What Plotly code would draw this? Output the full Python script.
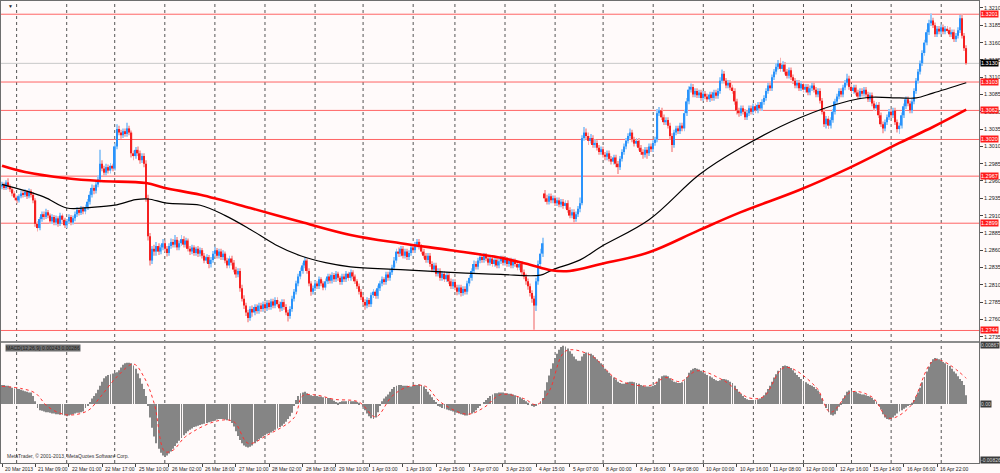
import plotly.graph_objects as go
from plotly.subplots import make_subplots

# EURUSD H1, 20 Mar 2013 17:00 .. 17 Apr 2013, x is the bar number
opens = [
    1.2952, 1.2955, 1.2950, 1.2958, 1.2952, 1.2948, 1.2942, 1.2936, 1.2932, 1.2938,
    1.2942, 1.2940, 1.2944, 1.2938, 1.2945, 1.2940, 1.2932, 1.2898, 1.2892, 1.2905,
    1.2912, 1.2908, 1.2915, 1.2910, 1.2902, 1.2908, 1.2900, 1.2906, 1.2898, 1.2910,
    1.2904, 1.2896, 1.2902, 1.2908, 1.2900, 1.2906, 1.2912, 1.2918, 1.2914, 1.2920,
    1.2916, 1.2922, 1.2930, 1.2940, 1.2950, 1.2946, 1.2955, 1.2962, 1.2985, 1.2978,
    1.2972, 1.2980, 1.2975, 1.2982, 1.2978, 1.3010, 1.3035, 1.3030, 1.3026, 1.3032,
    1.3028, 1.3036, 1.3030, 1.3000, 1.2996, 1.3005, 1.3000, 1.2990, 1.2996, 1.2985,
    1.2935, 1.2880, 1.2845, 1.2862, 1.2858, 1.2866, 1.2858, 1.2864, 1.2870, 1.2862,
    1.2856, 1.2866, 1.2872, 1.2868, 1.2875, 1.2864, 1.2870, 1.2876, 1.2868, 1.2874,
    1.2862, 1.2858, 1.2864, 1.2856, 1.2862, 1.2855, 1.2860, 1.2852, 1.2845, 1.2850,
    1.2840, 1.2846, 1.2855, 1.2860, 1.2852, 1.2858, 1.2850, 1.2855, 1.2845, 1.2838,
    1.2848, 1.2842, 1.2832, 1.2825, 1.2830, 1.2805, 1.2790, 1.2780, 1.2770, 1.2762,
    1.2775, 1.2770, 1.2778, 1.2772, 1.2780, 1.2775, 1.2782, 1.2776, 1.2784, 1.2778,
    1.2786, 1.2780, 1.2788, 1.2782, 1.2776, 1.2785, 1.2778, 1.2770, 1.2765, 1.2775,
    1.2790, 1.2800, 1.2812, 1.2822, 1.2830, 1.2838, 1.2845, 1.2830, 1.2812, 1.2800,
    1.2805, 1.2812, 1.2808, 1.2818, 1.2812, 1.2806, 1.2815, 1.2822, 1.2816, 1.2824,
    1.2818, 1.2826, 1.2820, 1.2814, 1.2822, 1.2818, 1.2826, 1.2820, 1.2828, 1.2822,
    1.2815, 1.2808, 1.2800, 1.2792, 1.2785, 1.2780, 1.2788, 1.2782, 1.2795, 1.2800,
    1.2794, 1.2805, 1.2812, 1.2818, 1.2814, 1.2825, 1.2820, 1.2828, 1.2835, 1.2845,
    1.2858, 1.2855, 1.2862, 1.2852, 1.2858, 1.2850, 1.2856, 1.2864, 1.2860, 1.2868,
    1.2872, 1.2865, 1.2858, 1.2852, 1.2846, 1.2852, 1.2840, 1.2832, 1.2838, 1.2826,
    1.2830, 1.2820, 1.2826, 1.2818, 1.2824, 1.2815, 1.2808, 1.2814, 1.2806, 1.2800,
    1.2806, 1.2798, 1.2804, 1.2800, 1.2812, 1.2820, 1.2830, 1.2840, 1.2836, 1.2845,
    1.2850, 1.2846, 1.2852, 1.2848, 1.2842, 1.2848, 1.2840, 1.2846, 1.2838, 1.2844,
    1.2848, 1.2842, 1.2846, 1.2840, 1.2845, 1.2838, 1.2844, 1.2840, 1.2835, 1.2840,
    1.2828, 1.2822, 1.2815, 1.2808, 1.2798, 1.2790, 1.2780, 1.2815, 1.2840, 1.2855,
    1.2942, 1.2935, 1.2930, 1.2938, 1.2932, 1.2935, 1.2928, 1.2932, 1.2926, 1.2930,
    1.2924, 1.2928, 1.2918, 1.2910, 1.2915, 1.2905, 1.2912, 1.2920, 1.2928, 1.3022,
    1.3030, 1.3025, 1.3018, 1.3022, 1.3012, 1.3015, 1.3008, 1.3002, 1.3006, 1.2998,
    1.2995, 1.3000, 1.2992, 1.2988, 1.2994, 1.2985, 1.2980, 1.2992, 1.3002, 1.3010,
    1.3018, 1.3025, 1.3030, 1.3020, 1.3014, 1.3018, 1.3008, 1.3002, 1.2998, 1.3005,
    1.3000, 1.3010, 1.3006, 1.3015, 1.3020, 1.3058, 1.3062, 1.3052, 1.3045, 1.3048,
    1.3040, 1.3025, 1.3012, 1.3030, 1.3036, 1.3032, 1.3040, 1.3036, 1.3058, 1.3075,
    1.3092, 1.3096, 1.3085, 1.3090, 1.3084, 1.3088, 1.3080, 1.3086, 1.3082, 1.3078,
    1.3085, 1.3080, 1.3088, 1.3083, 1.3090, 1.3105, 1.3115, 1.3105, 1.3098, 1.3102,
    1.3095, 1.3090, 1.3075, 1.3062, 1.3058, 1.3065, 1.3060, 1.3052, 1.3058, 1.3065,
    1.3060, 1.3068, 1.3062, 1.3070, 1.3065, 1.3074, 1.3080, 1.3090, 1.3098, 1.3094,
    1.3110, 1.3118, 1.3125, 1.3130, 1.3122, 1.3128, 1.3118, 1.3112, 1.3120, 1.3110,
    1.3105, 1.3098, 1.3102, 1.3094, 1.3100, 1.3092, 1.3096, 1.3088, 1.3094, 1.3098,
    1.3092, 1.3085, 1.3090, 1.3076, 1.3060, 1.3042, 1.3050, 1.3040, 1.3048, 1.3060,
    1.3075, 1.3082, 1.3090, 1.3085, 1.3095, 1.3102, 1.3108, 1.3096, 1.3090, 1.3095,
    1.3088, 1.3082, 1.3090, 1.3086, 1.3092, 1.3085, 1.3078, 1.3084, 1.3072, 1.3065,
    1.3070, 1.3055, 1.3042, 1.3036, 1.3045, 1.3052, 1.3060, 1.3055, 1.3062, 1.3045,
    1.3035, 1.3040, 1.3055, 1.3068, 1.3078, 1.3072, 1.3062, 1.3075, 1.3090, 1.3105,
    1.3118, 1.3130, 1.3145, 1.3160, 1.3175, 1.3188, 1.3192, 1.3185, 1.3172, 1.3180,
    1.3176, 1.3182, 1.3176, 1.3180, 1.3178, 1.3172, 1.3175, 1.3165, 1.3170, 1.3178,
    1.3195, 1.3170, 1.3152,
]

highs = [
    1.2959, 1.2958, 1.2961, 1.2964, 1.2955, 1.2951, 1.2945, 1.2939, 1.2941, 1.2946,
    1.2946, 1.2948, 1.2947, 1.2949, 1.2948, 1.2944, 1.2935, 1.2902, 1.2908, 1.2916,
    1.2916, 1.2920, 1.2918, 1.2913, 1.2912, 1.2911, 1.2910, 1.2909, 1.2914, 1.2913,
    1.2907, 1.2905, 1.2912, 1.2911, 1.2910, 1.2916, 1.2922, 1.2921, 1.2924, 1.2923,
    1.2926, 1.2934, 1.2945, 1.2955, 1.2954, 1.2960, 1.2968, 1.3005, 1.2990, 1.2982,
    1.2985, 1.2984, 1.2986, 1.2985, 1.3014, 1.3042, 1.3040, 1.3034, 1.3036, 1.3036,
    1.3044, 1.3040, 1.3033, 1.3004, 1.3009, 1.3010, 1.3004, 1.3000, 1.3000, 1.2990,
    1.2940, 1.2885, 1.2866, 1.2868, 1.2872, 1.2870, 1.2868, 1.2876, 1.2874, 1.2866,
    1.2870, 1.2877, 1.2876, 1.2882, 1.2879, 1.2874, 1.2882, 1.2880, 1.2878, 1.2877,
    1.2866, 1.2868, 1.2867, 1.2865, 1.2866, 1.2864, 1.2863, 1.2856, 1.2854, 1.2853,
    1.2850, 1.2859, 1.2865, 1.2863, 1.2862, 1.2862, 1.2860, 1.2858, 1.2849, 1.2852,
    1.2852, 1.2846, 1.2836, 1.2834, 1.2834, 1.2810, 1.2795, 1.2784, 1.2774, 1.2779,
    1.2780, 1.2782, 1.2782, 1.2784, 1.2784, 1.2786, 1.2786, 1.2788, 1.2788, 1.2790,
    1.2790, 1.2792, 1.2792, 1.2786, 1.2789, 1.2789, 1.2782, 1.2774, 1.2779, 1.2794,
    1.2804, 1.2816, 1.2826, 1.2835, 1.2842, 1.2850, 1.2848, 1.2834, 1.2815, 1.2809,
    1.2816, 1.2815, 1.2822, 1.2821, 1.2815, 1.2819, 1.2826, 1.2826, 1.2828, 1.2827,
    1.2830, 1.2829, 1.2823, 1.2826, 1.2826, 1.2830, 1.2829, 1.2832, 1.2831, 1.2825,
    1.2818, 1.2812, 1.2804, 1.2795, 1.2789, 1.2792, 1.2791, 1.2799, 1.2804, 1.2803,
    1.2809, 1.2816, 1.2822, 1.2821, 1.2829, 1.2829, 1.2832, 1.2839, 1.2850, 1.2862,
    1.2864, 1.2866, 1.2866, 1.2862, 1.2862, 1.2860, 1.2868, 1.2868, 1.2872, 1.2876,
    1.2876, 1.2869, 1.2862, 1.2856, 1.2856, 1.2856, 1.2844, 1.2842, 1.2842, 1.2834,
    1.2834, 1.2830, 1.2830, 1.2828, 1.2828, 1.2819, 1.2818, 1.2818, 1.2810, 1.2810,
    1.2810, 1.2808, 1.2808, 1.2816, 1.2824, 1.2834, 1.2845, 1.2844, 1.2849, 1.2856,
    1.2854, 1.2856, 1.2856, 1.2852, 1.2852, 1.2852, 1.2850, 1.2850, 1.2848, 1.2852,
    1.2852, 1.2850, 1.2850, 1.2849, 1.2849, 1.2848, 1.2848, 1.2844, 1.2844, 1.2844,
    1.2832, 1.2826, 1.2819, 1.2812, 1.2802, 1.2794, 1.2820, 1.2845, 1.2862, 1.2878,
    1.2947, 1.2940, 1.2942, 1.2942, 1.2939, 1.2939, 1.2936, 1.2936, 1.2934, 1.2934,
    1.2932, 1.2932, 1.2922, 1.2919, 1.2919, 1.2916, 1.2924, 1.2936, 1.3026, 1.3038,
    1.3036, 1.3030, 1.3028, 1.3026, 1.3020, 1.3019, 1.3012, 1.3010, 1.3010, 1.3002,
    1.3004, 1.3004, 1.2996, 1.2998, 1.2998, 1.2989, 1.2996, 1.3006, 1.3014, 1.3022,
    1.3029, 1.3036, 1.3034, 1.3024, 1.3022, 1.3022, 1.3012, 1.3006, 1.3009, 1.3009,
    1.3014, 1.3014, 1.3019, 1.3024, 1.3064, 1.3067, 1.3066, 1.3056, 1.3052, 1.3052,
    1.3044, 1.3029, 1.3034, 1.3040, 1.3040, 1.3044, 1.3044, 1.3063, 1.3080, 1.3097,
    1.3101, 1.3100, 1.3094, 1.3094, 1.3092, 1.3092, 1.3090, 1.3090, 1.3086, 1.3089,
    1.3089, 1.3092, 1.3092, 1.3094, 1.3110, 1.3121, 1.3119, 1.3109, 1.3106, 1.3106,
    1.3099, 1.3094, 1.3079, 1.3066, 1.3069, 1.3069, 1.3064, 1.3062, 1.3069, 1.3069,
    1.3072, 1.3072, 1.3074, 1.3074, 1.3078, 1.3084, 1.3094, 1.3102, 1.3102, 1.3114,
    1.3122, 1.3130, 1.3135, 1.3138, 1.3133, 1.3132, 1.3122, 1.3124, 1.3124, 1.3114,
    1.3109, 1.3106, 1.3106, 1.3104, 1.3104, 1.3100, 1.3100, 1.3098, 1.3102, 1.3102,
    1.3096, 1.3094, 1.3094, 1.3080, 1.3064, 1.3054, 1.3054, 1.3052, 1.3064, 1.3079,
    1.3086, 1.3094, 1.3094, 1.3099, 1.3106, 1.3115, 1.3112, 1.3100, 1.3099, 1.3099,
    1.3092, 1.3094, 1.3094, 1.3096, 1.3096, 1.3089, 1.3088, 1.3088, 1.3076, 1.3074,
    1.3074, 1.3059, 1.3046, 1.3049, 1.3056, 1.3064, 1.3064, 1.3066, 1.3066, 1.3049,
    1.3044, 1.3059, 1.3072, 1.3082, 1.3082, 1.3076, 1.3079, 1.3094, 1.3109, 1.3122,
    1.3134, 1.3149, 1.3164, 1.3179, 1.3193, 1.3202, 1.3196, 1.3189, 1.3184, 1.3184,
    1.3186, 1.3186, 1.3184, 1.3184, 1.3182, 1.3179, 1.3179, 1.3174, 1.3182, 1.3200,
    1.3201, 1.3174, 1.3156,
]

lows = [
    1.2948, 1.2947, 1.2947, 1.2948, 1.2944, 1.2938, 1.2932, 1.2928, 1.2929, 1.2935,
    1.2936, 1.2937, 1.2934, 1.2935, 1.2936, 1.2928, 1.2894, 1.2887, 1.2889, 1.2901,
    1.2904, 1.2905, 1.2906, 1.2898, 1.2898, 1.2896, 1.2896, 1.2894, 1.2895, 1.2900,
    1.2892, 1.2892, 1.2899, 1.2896, 1.2897, 1.2902, 1.2908, 1.2910, 1.2911, 1.2912,
    1.2912, 1.2918, 1.2926, 1.2936, 1.2941, 1.2942, 1.2951, 1.2958, 1.2974, 1.2968,
    1.2968, 1.2971, 1.2971, 1.2974, 1.2975, 1.3006, 1.3026, 1.3021, 1.3022, 1.3024,
    1.3024, 1.3026, 1.2994, 1.2990, 1.2992, 1.2996, 1.2985, 1.2986, 1.2980, 1.2930,
    1.2874, 1.2838, 1.2840, 1.2852, 1.2852, 1.2853, 1.2854, 1.2860, 1.2858, 1.2851,
    1.2852, 1.2862, 1.2864, 1.2864, 1.2860, 1.2860, 1.2866, 1.2864, 1.2864, 1.2858,
    1.2853, 1.2854, 1.2852, 1.2852, 1.2850, 1.2851, 1.2848, 1.2841, 1.2841, 1.2834,
    1.2835, 1.2842, 1.2851, 1.2848, 1.2848, 1.2846, 1.2846, 1.2841, 1.2834, 1.2834,
    1.2838, 1.2828, 1.2820, 1.2821, 1.2800, 1.2786, 1.2775, 1.2765, 1.2756, 1.2758,
    1.2764, 1.2766, 1.2768, 1.2768, 1.2771, 1.2771, 1.2772, 1.2772, 1.2774, 1.2774,
    1.2776, 1.2776, 1.2778, 1.2771, 1.2772, 1.2774, 1.2766, 1.2757, 1.2761, 1.2771,
    1.2786, 1.2796, 1.2808, 1.2818, 1.2826, 1.2834, 1.2826, 1.2808, 1.2794, 1.2796,
    1.2801, 1.2804, 1.2804, 1.2808, 1.2802, 1.2802, 1.2811, 1.2812, 1.2812, 1.2814,
    1.2814, 1.2816, 1.2810, 1.2810, 1.2814, 1.2814, 1.2816, 1.2816, 1.2818, 1.2811,
    1.2804, 1.2796, 1.2788, 1.2781, 1.2774, 1.2776, 1.2778, 1.2778, 1.2791, 1.2790,
    1.2790, 1.2801, 1.2808, 1.2810, 1.2810, 1.2816, 1.2816, 1.2824, 1.2831, 1.2841,
    1.2850, 1.2851, 1.2848, 1.2848, 1.2846, 1.2846, 1.2852, 1.2856, 1.2856, 1.2864,
    1.2861, 1.2854, 1.2848, 1.2842, 1.2842, 1.2836, 1.2828, 1.2828, 1.2822, 1.2822,
    1.2816, 1.2816, 1.2814, 1.2814, 1.2811, 1.2804, 1.2804, 1.2802, 1.2795, 1.2796,
    1.2793, 1.2794, 1.2796, 1.2796, 1.2808, 1.2816, 1.2826, 1.2832, 1.2832, 1.2841,
    1.2842, 1.2842, 1.2844, 1.2838, 1.2838, 1.2836, 1.2836, 1.2834, 1.2834, 1.2840,
    1.2838, 1.2838, 1.2836, 1.2836, 1.2834, 1.2834, 1.2836, 1.2831, 1.2831, 1.2824,
    1.2818, 1.2810, 1.2803, 1.2793, 1.2784, 1.2745, 1.2772, 1.2810, 1.2835, 1.2850,
    1.2930, 1.2926, 1.2926, 1.2928, 1.2928, 1.2924, 1.2924, 1.2922, 1.2922, 1.2920,
    1.2920, 1.2914, 1.2906, 1.2906, 1.2900, 1.2901, 1.2908, 1.2915, 1.2925, 1.3018,
    1.3020, 1.3012, 1.3014, 1.3008, 1.3008, 1.3004, 1.2998, 1.2998, 1.2994, 1.2990,
    1.2990, 1.2988, 1.2984, 1.2984, 1.2980, 1.2970, 1.2976, 1.2988, 1.2998, 1.3006,
    1.3014, 1.3021, 1.3016, 1.3010, 1.3010, 1.3004, 1.2998, 1.2992, 1.2994, 1.2992,
    1.2996, 1.3002, 1.3002, 1.3011, 1.3016, 1.3054, 1.3048, 1.3041, 1.3041, 1.3036,
    1.3020, 1.3002, 1.3008, 1.3026, 1.3028, 1.3028, 1.3032, 1.3032, 1.3054, 1.3071,
    1.3088, 1.3081, 1.3081, 1.3080, 1.3080, 1.3076, 1.3076, 1.3078, 1.3074, 1.3074,
    1.3076, 1.3076, 1.3079, 1.3079, 1.3086, 1.3101, 1.3101, 1.3094, 1.3094, 1.3091,
    1.3086, 1.3070, 1.3056, 1.3053, 1.3054, 1.3056, 1.3048, 1.3048, 1.3054, 1.3056,
    1.3056, 1.3058, 1.3058, 1.3061, 1.3061, 1.3070, 1.3076, 1.3086, 1.3090, 1.3090,
    1.3106, 1.3114, 1.3121, 1.3118, 1.3118, 1.3114, 1.3108, 1.3108, 1.3106, 1.3100,
    1.3094, 1.3094, 1.3090, 1.3090, 1.3088, 1.3088, 1.3084, 1.3084, 1.3090, 1.3088,
    1.3081, 1.3081, 1.3072, 1.3056, 1.3038, 1.3036, 1.3035, 1.3036, 1.3044, 1.3056,
    1.3071, 1.3078, 1.3081, 1.3081, 1.3091, 1.3098, 1.3092, 1.3086, 1.3086, 1.3084,
    1.3078, 1.3078, 1.3082, 1.3082, 1.3081, 1.3074, 1.3074, 1.3068, 1.3061, 1.3061,
    1.3051, 1.3038, 1.3029, 1.3032, 1.3041, 1.3048, 1.3051, 1.3051, 1.3041, 1.3030,
    1.3028, 1.3036, 1.3051, 1.3064, 1.3068, 1.3058, 1.3058, 1.3071, 1.3086, 1.3101,
    1.3114, 1.3126, 1.3141, 1.3156, 1.3171, 1.3184, 1.3181, 1.3168, 1.3168, 1.3172,
    1.3172, 1.3172, 1.3172, 1.3174, 1.3168, 1.3168, 1.3161, 1.3161, 1.3166, 1.3174,
    1.3166, 1.3148, 1.3128,
]

closes = [
    1.2955, 1.2950, 1.2958, 1.2952, 1.2948, 1.2942, 1.2936, 1.2932, 1.2938, 1.2942,
    1.2940, 1.2944, 1.2938, 1.2945, 1.2940, 1.2932, 1.2898, 1.2892, 1.2905, 1.2912,
    1.2908, 1.2915, 1.2910, 1.2902, 1.2908, 1.2900, 1.2906, 1.2898, 1.2910, 1.2904,
    1.2896, 1.2902, 1.2908, 1.2900, 1.2906, 1.2912, 1.2918, 1.2914, 1.2920, 1.2916,
    1.2922, 1.2930, 1.2940, 1.2950, 1.2946, 1.2955, 1.2962, 1.2985, 1.2978, 1.2972,
    1.2980, 1.2975, 1.2982, 1.2978, 1.3010, 1.3035, 1.3030, 1.3026, 1.3032, 1.3028,
    1.3036, 1.3030, 1.3000, 1.2996, 1.3005, 1.3000, 1.2990, 1.2996, 1.2985, 1.2935,
    1.2880, 1.2845, 1.2862, 1.2858, 1.2866, 1.2858, 1.2864, 1.2870, 1.2862, 1.2856,
    1.2866, 1.2872, 1.2868, 1.2875, 1.2864, 1.2870, 1.2876, 1.2868, 1.2874, 1.2862,
    1.2858, 1.2864, 1.2856, 1.2862, 1.2855, 1.2860, 1.2852, 1.2845, 1.2850, 1.2840,
    1.2846, 1.2855, 1.2860, 1.2852, 1.2858, 1.2850, 1.2855, 1.2845, 1.2838, 1.2848,
    1.2842, 1.2832, 1.2825, 1.2830, 1.2805, 1.2790, 1.2780, 1.2770, 1.2762, 1.2775,
    1.2770, 1.2778, 1.2772, 1.2780, 1.2775, 1.2782, 1.2776, 1.2784, 1.2778, 1.2786,
    1.2780, 1.2788, 1.2782, 1.2776, 1.2785, 1.2778, 1.2770, 1.2765, 1.2775, 1.2790,
    1.2800, 1.2812, 1.2822, 1.2830, 1.2838, 1.2845, 1.2830, 1.2812, 1.2800, 1.2805,
    1.2812, 1.2808, 1.2818, 1.2812, 1.2806, 1.2815, 1.2822, 1.2816, 1.2824, 1.2818,
    1.2826, 1.2820, 1.2814, 1.2822, 1.2818, 1.2826, 1.2820, 1.2828, 1.2822, 1.2815,
    1.2808, 1.2800, 1.2792, 1.2785, 1.2780, 1.2788, 1.2782, 1.2795, 1.2800, 1.2794,
    1.2805, 1.2812, 1.2818, 1.2814, 1.2825, 1.2820, 1.2828, 1.2835, 1.2845, 1.2858,
    1.2855, 1.2862, 1.2852, 1.2858, 1.2850, 1.2856, 1.2864, 1.2860, 1.2868, 1.2872,
    1.2865, 1.2858, 1.2852, 1.2846, 1.2852, 1.2840, 1.2832, 1.2838, 1.2826, 1.2830,
    1.2820, 1.2826, 1.2818, 1.2824, 1.2815, 1.2808, 1.2814, 1.2806, 1.2800, 1.2806,
    1.2798, 1.2804, 1.2800, 1.2812, 1.2820, 1.2830, 1.2840, 1.2836, 1.2845, 1.2850,
    1.2846, 1.2852, 1.2848, 1.2842, 1.2848, 1.2840, 1.2846, 1.2838, 1.2844, 1.2848,
    1.2842, 1.2846, 1.2840, 1.2845, 1.2838, 1.2844, 1.2840, 1.2835, 1.2840, 1.2828,
    1.2822, 1.2815, 1.2808, 1.2798, 1.2790, 1.2780, 1.2815, 1.2840, 1.2855, 1.2870,
    1.2935, 1.2930, 1.2938, 1.2932, 1.2935, 1.2928, 1.2932, 1.2926, 1.2930, 1.2924,
    1.2928, 1.2918, 1.2910, 1.2915, 1.2905, 1.2912, 1.2920, 1.2928, 1.3022, 1.3030,
    1.3025, 1.3018, 1.3022, 1.3012, 1.3015, 1.3008, 1.3002, 1.3006, 1.2998, 1.2995,
    1.3000, 1.2992, 1.2988, 1.2994, 1.2985, 1.2980, 1.2992, 1.3002, 1.3010, 1.3018,
    1.3025, 1.3030, 1.3020, 1.3014, 1.3018, 1.3008, 1.3002, 1.2998, 1.3005, 1.3000,
    1.3010, 1.3006, 1.3015, 1.3020, 1.3058, 1.3062, 1.3052, 1.3045, 1.3048, 1.3040,
    1.3025, 1.3012, 1.3030, 1.3036, 1.3032, 1.3040, 1.3036, 1.3058, 1.3075, 1.3092,
    1.3096, 1.3085, 1.3090, 1.3084, 1.3088, 1.3080, 1.3086, 1.3082, 1.3078, 1.3085,
    1.3080, 1.3088, 1.3083, 1.3090, 1.3105, 1.3115, 1.3105, 1.3098, 1.3102, 1.3095,
    1.3090, 1.3075, 1.3062, 1.3058, 1.3065, 1.3060, 1.3052, 1.3058, 1.3065, 1.3060,
    1.3068, 1.3062, 1.3070, 1.3065, 1.3074, 1.3080, 1.3090, 1.3098, 1.3094, 1.3110,
    1.3118, 1.3125, 1.3130, 1.3122, 1.3128, 1.3118, 1.3112, 1.3120, 1.3110, 1.3105,
    1.3098, 1.3102, 1.3094, 1.3100, 1.3092, 1.3096, 1.3088, 1.3094, 1.3098, 1.3092,
    1.3085, 1.3090, 1.3076, 1.3060, 1.3042, 1.3050, 1.3040, 1.3048, 1.3060, 1.3075,
    1.3082, 1.3090, 1.3085, 1.3095, 1.3102, 1.3108, 1.3096, 1.3090, 1.3095, 1.3088,
    1.3082, 1.3090, 1.3086, 1.3092, 1.3085, 1.3078, 1.3084, 1.3072, 1.3065, 1.3070,
    1.3055, 1.3042, 1.3036, 1.3045, 1.3052, 1.3060, 1.3055, 1.3062, 1.3045, 1.3035,
    1.3040, 1.3055, 1.3068, 1.3078, 1.3072, 1.3062, 1.3075, 1.3090, 1.3105, 1.3118,
    1.3130, 1.3145, 1.3160, 1.3175, 1.3188, 1.3192, 1.3185, 1.3172, 1.3180, 1.3176,
    1.3182, 1.3176, 1.3180, 1.3178, 1.3172, 1.3175, 1.3165, 1.3170, 1.3178, 1.3195,
    1.3170, 1.3152, 1.3130,
]

# MACD main line (histogram), one value per bar
macd_main = [
    0.0028, 0.0028, 0.0027, 0.0027, 0.0026, 0.0024, 0.0023, 0.0022, 0.0022, 0.0021,
    0.0020, 0.0019, 0.0018, 0.0017, 0.0017, 0.0012, 0.0004, -0.0006, -0.0009, -0.0010,
    -0.0011, -0.0012, -0.0012, -0.0013, -0.0014, -0.0014, -0.0015, -0.0015, -0.0016, -0.0016,
    -0.0017, -0.0018, -0.0017, -0.0016, -0.0015, -0.0014, -0.0013, -0.0013, -0.0012, -0.0011,
    -0.0006, -0.0002, 0.0003, 0.0008, 0.0012, 0.0016, 0.0021, 0.0027, 0.0033, 0.0038,
    0.0041, 0.0043, 0.0044, 0.0045, 0.0046, 0.0047, 0.0050, 0.0054, 0.0058, 0.0060,
    0.0061, 0.0061, 0.0060, 0.0057, 0.0052, 0.0045, 0.0038, 0.0030, 0.0022, 0.0012,
    -0.0002, -0.0020, -0.0035, -0.0048, -0.0058, -0.0066, -0.0072, -0.0076, -0.0078, -0.0076,
    -0.0073, -0.0070, -0.0066, -0.0062, -0.0058, -0.0054, -0.0050, -0.0046, -0.0043, -0.0040,
    -0.0038, -0.0036, -0.0034, -0.0033, -0.0032, -0.0031, -0.0030, -0.0029, -0.0028, -0.0027,
    -0.0026, -0.0025, -0.0024, -0.0023, -0.0022, -0.0022, -0.0022, -0.0023, -0.0024, -0.0025,
    -0.0028, -0.0033, -0.0040, -0.0047, -0.0053, -0.0058, -0.0061, -0.0063, -0.0064, -0.0063,
    -0.0061, -0.0058, -0.0055, -0.0052, -0.0050, -0.0048, -0.0046, -0.0044, -0.0043, -0.0042,
    -0.0040, -0.0038, -0.0036, -0.0034, -0.0032, -0.0029, -0.0026, -0.0022, -0.0018, -0.0013,
    -0.0002, 0.0006, 0.0012, 0.0016, 0.0017, 0.0018, 0.0016, 0.0014, 0.0013, 0.0012,
    0.0012, 0.0012, 0.0011, 0.0011, 0.0010, 0.0010, 0.0009, 0.0009, 0.0007, 0.0005,
    0.0003, 0.0002, 0.0003, 0.0004, 0.0004, 0.0004, 0.0005, 0.0004, 0.0004, 0.0004,
    0.0003, 0.0002, 0.0000, -0.0004, -0.0009, -0.0014, -0.0018, -0.0021, -0.0022, -0.0020,
    -0.0012, -0.0003, 0.0004, 0.0008, 0.0011, 0.0014, 0.0018, 0.0022, 0.0025, 0.0027,
    0.0028, 0.0028, 0.0027, 0.0027, 0.0027, 0.0026, 0.0026, 0.0027, 0.0028, 0.0028,
    0.0029, 0.0028, 0.0026, 0.0022, 0.0018, 0.0014, 0.0010, 0.0006, 0.0003, -0.0002,
    -0.0004, -0.0006, -0.0007, -0.0008, -0.0009, -0.0010, -0.0011, -0.0012, -0.0013, -0.0014,
    -0.0015, -0.0016, -0.0017, -0.0017, -0.0016, -0.0014, -0.0012, -0.0009, -0.0006, -0.0003,
    0.0000, 0.0003, 0.0006, 0.0009, 0.0012, 0.0014, 0.0016, 0.0016, 0.0017, 0.0017,
    0.0017, 0.0016, 0.0016, 0.0015, 0.0015, 0.0014, 0.0013, 0.0012, 0.0010, 0.0008,
    0.0006, 0.0004, 0.0002, 0.0000, -0.0002, -0.0004, -0.0003, 0.0000, 0.0004, 0.0009,
    0.0020, 0.0032, 0.0042, 0.0052, 0.0060, 0.0068, 0.0074, 0.0080, 0.0084, 0.0086,
    0.0085, 0.0082, 0.0078, 0.0074, 0.0070, 0.0066, 0.0064, 0.0064, 0.0070, 0.0074,
    0.0076, 0.0076, 0.0074, 0.0072, 0.0069, 0.0066, 0.0063, 0.0060, 0.0056, 0.0052,
    0.0049, 0.0046, 0.0042, 0.0039, 0.0036, 0.0033, 0.0031, 0.0030, 0.0030, 0.0031,
    0.0032, 0.0033, 0.0033, 0.0032, 0.0031, 0.0030, 0.0028, 0.0027, 0.0026, 0.0026,
    0.0026, 0.0026, 0.0027, 0.0028, 0.0033, 0.0038, 0.0041, 0.0042, 0.0042, 0.0041,
    0.0038, 0.0035, 0.0033, 0.0032, 0.0031, 0.0031, 0.0032, 0.0035, 0.0040, 0.0046,
    0.0050, 0.0052, 0.0053, 0.0052, 0.0051, 0.0049, 0.0047, 0.0045, 0.0043, 0.0041,
    0.0039, 0.0037, 0.0035, 0.0034, 0.0035, 0.0037, 0.0037, 0.0036, 0.0035, 0.0033,
    0.0031, 0.0027, 0.0022, 0.0018, 0.0015, 0.0012, 0.0009, 0.0007, 0.0006, 0.0006,
    0.0006, 0.0006, 0.0007, 0.0008, 0.0010, 0.0013, 0.0017, 0.0022, 0.0027, 0.0033,
    0.0039, 0.0044, 0.0049, 0.0053, 0.0056, 0.0057, 0.0056, 0.0055, 0.0053, 0.0050,
    0.0046, 0.0043, 0.0040, 0.0037, 0.0034, 0.0032, 0.0030, 0.0028, 0.0027, 0.0025,
    0.0022, 0.0020, 0.0015, 0.0008, 0.0000, -0.0006, -0.0012, -0.0016, -0.0017, -0.0015,
    -0.0010, -0.0004, 0.0002, 0.0008, 0.0013, 0.0018, 0.0020, 0.0020, 0.0019, 0.0018,
    0.0016, 0.0015, 0.0014, 0.0014, 0.0013, 0.0012, 0.0011, 0.0009, 0.0006, 0.0003,
    -0.0002, -0.0008, -0.0015, -0.0020, -0.0022, -0.0023, -0.0022, -0.0020, -0.0017, -0.0014,
    -0.0011, -0.0009, -0.0007, -0.0005, -0.0003, -0.0001, 0.0002, 0.0006, 0.0011, 0.0017,
    0.0024, 0.0032, 0.0040, 0.0048, 0.0055, 0.0062, 0.0066, 0.0068, 0.0067, 0.0066,
    0.0064, 0.0062, 0.0060, 0.0058, 0.0056, 0.0052, 0.0048, 0.0045, 0.0041, 0.0037,
    0.0034, 0.0028, 0.0013,
]

# MACD signal line, read at a few bars
signal_bars = [0, 9, 16, 22, 31, 41, 47, 55, 63, 68, 73, 78, 82, 88, 103, 111, 118,
               127, 140, 144, 151, 159, 171, 179, 187, 195, 203, 210, 223, 231, 239,
               250, 256, 262, 270, 282, 295, 310, 318, 325, 333, 345, 358, 365, 375,
               390, 397, 407, 417, 425, 435, 447, 462]
signal_vals = [0.0026, 0.0023, 0.0016, -0.0004, -0.0016, -0.0010, 0.0010, 0.0040,
               0.0059, 0.0040, 0.0000, -0.0070, -0.0068, -0.0048, -0.0025, -0.0026,
               -0.0058, -0.0046, -0.0020, 0.0012, 0.0013, 0.0007, 0.0003, -0.0019,
               0.0012, 0.0026, 0.0026, 0.0003, -0.0015, -0.0005, 0.0014, 0.0008,
               -0.0001, 0.0018, 0.0078, 0.0072, 0.0036, 0.0027, 0.0039, 0.0033,
               0.0049, 0.0036, 0.0009, 0.0011, 0.0054, 0.0025, -0.0012, 0.0018,
               0.0010, -0.0021, -0.0004, 0.0065, 0.0038]

# moving averages (black = fast, red = slow), read at a few bars
fast_ma_bars = [0, 20, 31, 43, 54, 64, 70, 79, 95, 107, 119, 131, 143, 155, 167, 191,
                215, 239, 258, 264, 277, 287, 310, 334, 354, 382, 406, 416, 430, 438,
                446, 462]
fast_ma_vals = [1.2955, 1.2937, 1.2921, 1.2922, 1.2925, 1.2933, 1.2934, 1.2928, 1.2925,
                1.2910, 1.2890, 1.2868, 1.2852, 1.2842, 1.2836, 1.2832, 1.2828, 1.2825,
                1.2824, 1.2832, 1.2846, 1.2865, 1.2904, 1.2969, 1.3008, 1.3051, 1.3076,
                1.3081, 1.3080, 1.3080, 1.3087, 1.3102]
slow_ma_bars = [0, 11, 31, 47, 69, 78, 95, 119, 143, 167, 191, 215, 239, 253, 263, 272,
                287, 310, 334, 354, 382, 406, 430, 446, 462]
slow_ma_vals = [1.2982, 1.2973, 1.2964, 1.2960, 1.2957, 1.2950, 1.2940, 1.2921, 1.2901,
                1.2882, 1.2870, 1.2860, 1.2849, 1.2839, 1.2831, 1.2830, 1.2840, 1.2857,
                1.2889, 1.2915, 1.2947, 1.2979, 1.3015, 1.3038, 1.3063]

levels = [1.3201, 1.3103, 1.3062, 1.3020, 1.2967, 1.2899, 1.2744]
last_price = 1.3130

price_ticks = [1.2735, 1.2760, 1.2785, 1.2810, 1.2835, 1.2860, 1.2885, 1.2910, 1.2935,
               1.2960, 1.2985, 1.3010, 1.3035, 1.3060, 1.3085, 1.3110, 1.3135, 1.3160,
               1.3185, 1.3210]
macd_scale = [(0.0087, "0.00867"), (0.0, "0.00"), (-0.0083, "-0.00826")]

time_labels = ["20 Mar 2013", "21 Mar 09:00", "22 Mar 01:00", "22 Mar 17:00", "25 Mar 10:00",
               "26 Mar 02:00", "26 Mar 18:00", "27 Mar 10:00", "28 Mar 02:00", "28 Mar 18:00",
               "29 Mar 10:00", "1 Apr 03:00", "1 Apr 19:00", "2 Apr 15:00", "3 Apr 07:00",
               "3 Apr 23:00", "4 Apr 15:00", "5 Apr 07:00", "8 Apr 00:00", "8 Apr 16:00",
               "9 Apr 08:00", "10 Apr 00:00", "10 Apr 16:00", "11 Apr 08:00", "12 Apr 00:00",
               "12 Apr 16:00", "15 Apr 14:00", "16 Apr 06:00", "16 Apr 22:00"]
label_step = 16
# first bar of each day -> dotted grid
day_starts = [7, 31, 54, 78, 102, 126, 150, 173, 197, 217, 241, 265, 288, 312, 336,
              360, 384, 407, 426, 450]

BG = "#fffafa"
FRAME = "#6e6e6e"
FONT = "Liberation Sans"

n = len(closes)
bars = list(range(n))
rising = [c >= o for o, c in zip(opens, closes)]
body_base = [min(o, c) for o, c in zip(opens, closes)]
body_len = [max(abs(c - o), 0.00008) for o, c in zip(opens, closes)]
wick_len = [h - l for h, l in zip(highs, lows)]

fig = make_subplots(rows=2, cols=1, shared_xaxes=True, vertical_spacing=0)

# candles: wick then body
fig.add_trace(go.Bar(x=bars, y=wick_len, base=lows, width=0.45,
                     marker=dict(color=["#9ccbf7" if r else "#f7adad" for r in rising],
                                 line_width=0)), row=1, col=1)
fig.add_trace(go.Bar(x=bars, y=body_len, base=body_base, width=0.75,
                     marker=dict(color=["#2a93fb" if r else "#f52020" for r in rising],
                                 line_width=0)), row=1, col=1)

fig.add_trace(go.Scatter(x=fast_ma_bars, y=fast_ma_vals, mode="lines",
                         line=dict(color="#000000", width=1.2, shape="spline")), row=1, col=1)
fig.add_trace(go.Scatter(x=slow_ma_bars, y=slow_ma_vals, mode="lines",
                         line=dict(color="#ff0000", width=2.6, shape="spline")), row=1, col=1)

fig.add_trace(go.Bar(x=bars, y=macd_main, width=0.45,
                     marker=dict(color="#858585", line_width=0)), row=2, col=1)
fig.add_trace(go.Scatter(x=signal_bars, y=signal_vals, mode="lines",
                         line=dict(color="#ff3030", width=1, dash="dot", shape="spline")),
              row=2, col=1)

fig.update_layout(
    width=1000, height=473,
    margin=dict(l=1, r=21, t=1, b=10),
    paper_bgcolor=BG, plot_bgcolor=BG,
    showlegend=False, barmode="overlay", hovermode=False,
    font=dict(family=FONT, size=6, color="#222222"),
)
fig.update_xaxes(range=[-0.48, 468.1], showgrid=False, zeroline=False, showline=True,
                 mirror=True, linecolor=FRAME, linewidth=1, automargin=False)
fig.update_xaxes(showticklabels=False, ticks="", row=1, col=1)
fig.update_xaxes(tickvals=[k * label_step for k in range(len(time_labels))],
                 showticklabels=False, ticks="outside", ticklen=3, tickcolor="#444444",
                 row=2, col=1)

fig.update_yaxes(domain=[0.2641, 1.0], range=[1.27288, 1.32201], side="right",
                 tickvals=price_ticks, ticktext=[f"{v:.4f}" for v in price_ticks],
                 ticks="outside", ticklen=3, tickcolor="#444444",
                 tickfont=dict(size=5.5, color="#222222"),
                 showgrid=False, zeroline=False, showline=True, mirror=True,
                 linecolor=FRAME, linewidth=1, automargin=False, row=1, col=1)
fig.update_yaxes(domain=[0.0, 0.2597], range=[-0.0087, 0.0090], side="right",
                 showticklabels=False, ticks="", showgrid=False, zeroline=False,
                 showline=True, mirror=True, linecolor=FRAME, linewidth=1,
                 automargin=False, row=2, col=1)

# panel separator
fig.add_shape(type="rect", xref="paper", yref="paper", x0=0, x1=1, y0=0.2597, y1=0.2641,
              fillcolor="#8c8c8c", line_width=0)

for d in day_starts:
    fig.add_shape(type="line", xref="x", yref="paper", x0=d, x1=d, y0=0, y1=1,
                  line=dict(color="#555555", width=1, dash="dot"), layer="below")

fig.add_shape(type="line", xref="paper", yref="y", x0=0, x1=1, y0=last_price, y1=last_price,
              line=dict(color="#c8c8c8", width=1), layer="below")
for lv in levels:
    fig.add_shape(type="line", xref="paper", yref="y", x0=0, x1=1, y0=lv, y1=lv,
                  line=dict(color="#ff6464", width=1), layer="below")
    fig.add_annotation(xref="paper", x=1, xanchor="left", xshift=1, yref="y", y=lv,
                       text=f"{lv:.4f}", showarrow=False, bgcolor="#ff1c1c", borderpad=0,
                       font=dict(color="white", size=5.5))
fig.add_annotation(xref="paper", x=1, xanchor="left", xshift=1, yref="y", y=last_price,
                   text=f"{last_price:.4f}", showarrow=False, bgcolor="#000000", borderpad=0,
                   font=dict(color="white", size=5.5))

for val, txt in macd_scale:
    fig.add_annotation(xref="paper", x=1, xanchor="left", xshift=1, yref="y2", y=val,
                       text=txt, showarrow=False, bgcolor="#3c3c3c", borderpad=0,
                       font=dict(color="#d8d8d8", size=5))

for k, lab in enumerate(time_labels):
    fig.add_annotation(xref="x2", x=k * label_step, xanchor="left", xshift=1,
                       yref="paper", y=0, yanchor="top", yshift=-1,
                       text=lab, showarrow=False, font=dict(size=5, color="#222222"))

fig.add_annotation(xref="paper", x=0.004, xanchor="left", yref="paper", y=0.2575,
                   yanchor="top", text="MACD(12,26,9) 0.00243 0.00286", showarrow=False,
                   bgcolor="#6e6e6e", borderpad=0, font=dict(size=5, color="#1c1c1c"))
fig.add_annotation(xref="paper", x=0.004, xanchor="left", yref="paper", y=0.004,
                   yanchor="bottom", text="MetaTrader, © 2001-2013, MetaQuotes Software Corp.",
                   showarrow=False, font=dict(size=5, color="#333333"))
fig.add_annotation(xref="paper", x=0.005, xanchor="left", yref="paper", y=1.0,
                   yanchor="top", text="▼", showarrow=False, font=dict(size=5, color="#222222"))

# the page body has a default 8px margin; drop it so the chart sits at the corner
fig.write_html("out.html", config={"displayModeBar": False},
               post_script="document.body.style.margin='0';")
